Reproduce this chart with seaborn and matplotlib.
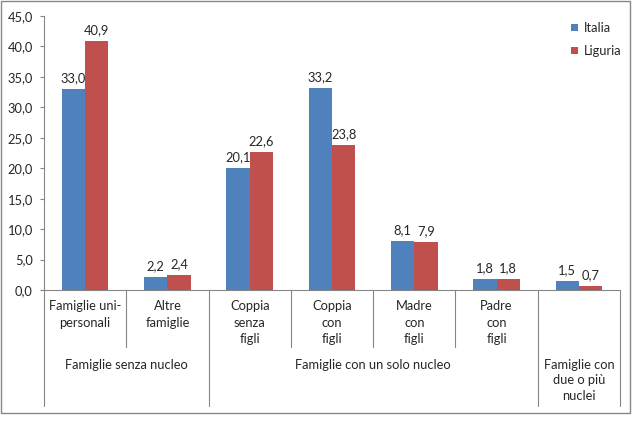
import matplotlib
matplotlib.use("Agg")
import matplotlib.pyplot as plt
import matplotlib.transforms as mtransforms
from matplotlib.patches import Rectangle, Patch
import seaborn as sns
import pandas as pd

categories = ["Famiglie uni-\npersonali", "Altre\nfamiglie", "Coppia\nsenza\nfigli",
              "Coppia\ncon\nfigli", "Madre\ncon\nfigli", "Padre\ncon\nfigli", ""]
italia = [33.0, 2.2, 20.1, 33.2, 8.1, 1.8, 1.5]
liguria = [40.9, 2.4, 22.6, 23.8, 7.9, 1.8, 0.7]
series = ["Italia", "Liguria"]
groups = ["Famiglie senza nucleo", "Famiglie con un solo nucleo", "Famiglie con\ndue o più\nnuclei"]
group_spans = [(0, 2), (2, 6), (6, 7)]
yticks = [0, 5, 10, 15, 20, 25, 30, 35, 40, 45]

colors = {"Italia": "#4F81BD", "Liguria": "#C0504D"}
gray = "#868686"

sns.set_style("white")
plt.rcParams["font.family"] = ["Lato", "DejaVu Sans"]
FS = 9.3
LS = 1.42

df = pd.DataFrame({
    "cat": list(range(len(categories))) * 2,
    "serie": ["Italia"] * len(italia) + ["Liguria"] * len(liguria),
    "value": italia + liguria,
})

W, H = 643, 422
fig = plt.figure(figsize=(W / 100, H / 100), dpi=100)
ax = fig.add_axes([44 / W, 1 - 290 / H, (620 - 44) / W, (290 - 16) / H])

sns.barplot(data=df, x="cat", y="value", hue="serie", hue_order=series,
            palette=colors, saturation=1, width=0.567, ax=ax, legend=False,
            linewidth=0, edgecolor="none")

ax.set_xlim(-0.5, len(categories) - 0.5)
ax.set_ylim(0, 45)
ax.set_yticks(yticks)
ax.set_yticklabels([f"{v:.1f}".replace(".", ",") for v in yticks], fontsize=FS)
ax.set_xticks(range(len(categories)))
ax.set_xticklabels(categories, fontsize=FS, linespacing=LS, va="top")
ax.tick_params(axis="x", length=0, pad=7.5)
ax.tick_params(axis="y", length=3, width=0.8, color=gray, pad=5, left=True)
ax.set_xlabel("")
ax.set_ylabel("")

for s in ["top", "right"]:
    ax.spines[s].set_visible(False)
for s in ["left", "bottom"]:
    ax.spines[s].set_color(gray)
    ax.spines[s].set_linewidth(0.8)

for cont, ser in zip(ax.containers, series):
    vals = italia if ser == "Italia" else liguria
    ax.bar_label(cont, labels=[f"{v:.1f}".replace(".", ",") for v in vals],
                 padding=3.5, fontsize=FS)

trans = mtransforms.blended_transform_factory(ax.transData, ax.transAxes)
group_edges = set()
for a, b in group_spans:
    group_edges.add(a)
    group_edges.add(b)
for k in range(len(categories) + 1):
    x = k - 0.5
    y1 = -0.423 if k in group_edges else -0.208
    ax.plot([x, x], [0, y1], transform=trans, color=gray, lw=0.8, clip_on=False)

for g, (a, b) in zip(groups, group_spans):
    ax.text((a + b - 1) / 2, -0.252, g, transform=trans, ha="center", va="top",
            fontsize=FS, linespacing=LS - 0.08)

handles = [Patch(facecolor=colors[s], edgecolor="none", label=s) for s in series]
fig.legend(handles=handles, loc="upper left", bbox_to_anchor=(566 / W, 1 - 17 / H),
           frameon=False, fontsize=FS, handlelength=0.5, handleheight=0.5,
           handletextpad=0.45, labelspacing=0.85, borderaxespad=0)

fig.patches.append(Rectangle((1 / W, 1 - 413 / H), 629 / W, 412 / H,
                             transform=fig.transFigure, fill=False,
                             edgecolor=gray, lw=1))

fig.savefig("out.png", dpi=100)
